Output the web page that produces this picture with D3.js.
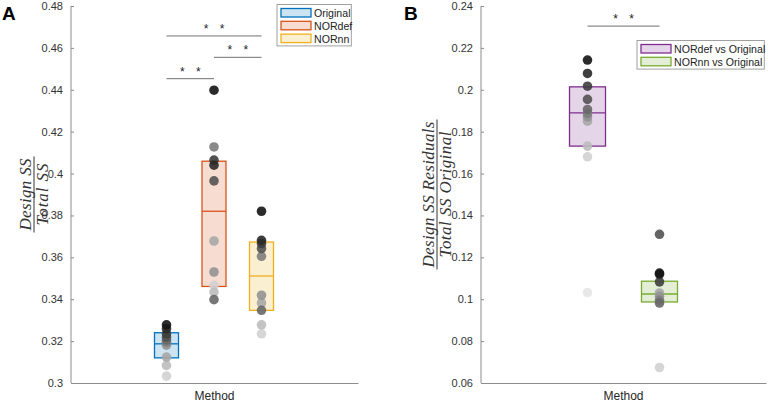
<!DOCTYPE html>
<html>
<head>
<meta charset="utf-8">
<script src="https://cdn.jsdelivr.net/npm/d3@7"></script>
<style>
  body { margin: 0; background: #fff; }
  svg { display: block; font-family: "Liberation Sans", Arial, sans-serif; }
</style>
</head>
<body>
<svg id="canvas"></svg>
<script>
// ---- data ----
const groupsA = ["Original", "NORdef", "NORnn"];
const boxLowA = [0.312, 0.3461, 0.3347];
const boxMedA = [0.3187, 0.382, 0.3511];
const boxHighA = [0.324, 0.4059, 0.3673];

const originalVals = [0.3278, 0.3259, 0.3235, 0.3219, 0.3205, 0.3195, 0.3181, 0.3124, 0.3084, 0.3033];
const originalRank = [0, 1, 2, 3, 4, 5, 6, 7, 8, 9];
const nordefVals = [0.4398, 0.4127, 0.4064, 0.404, 0.3965, 0.3678, 0.353, 0.3466, 0.3434, 0.3398];
const nordefRank = [0, 5, 2, 1, 3, 7, 6, 9, 8, 4];
const nornnVals = [0.382, 0.3681, 0.3666, 0.3642, 0.3605, 0.3419, 0.3382, 0.3347, 0.3278, 0.3235];
const nornnRank = [0, 1, 2, 3, 5, 6, 7, 4, 8, 9];

// significance pairs: [from group, to group, bar level]
const sigA = [["Original", "NORnn", 0.4657], ["NORdef", "NORnn", 0.4555], ["Original", "NORdef", 0.4453]];

const groupsB = ["NORdef vs Original", "NORnn vs Original"];
const boxLowB = [0.1731, 0.0987];
const boxMedB = [0.189, 0.1025];
const boxHighB = [0.2014, 0.1086];

const defVsOrigVals = [0.2142, 0.2078, 0.2017, 0.1954, 0.1906, 0.1887, 0.1871, 0.185, 0.1731, 0.168, 0.1032];
const defVsOrigRank = [0, 1, 2, 3, 4, 5, 6, 7, 8, 9, 10];
const nnVsOrigVals = [0.131, 0.1125, 0.1119, 0.1083, 0.103, 0.1014, 0.0995, 0.0982, 0.0674];
const nnVsOrigRank = [3, 0, 1, 2, 7, 6, 5, 4, 9];

const sigB = [["NORdef vs Original", "NORnn vs Original", 0.2304]];

const yTicksA = [0.3, 0.32, 0.34, 0.36, 0.38, 0.4, 0.42, 0.44, 0.46, 0.48];
const yTicksB = [0.06, 0.08, 0.1, 0.12, 0.14, 0.16, 0.18, 0.2, 0.22, 0.24];

// ---- layout ----
const width = 768;
const height = 402;
const plotTop = 6;
const plotBottom = 383;

const canvas = d3.select("#canvas").attr("width", width).attr("height", height);

const shade = d3.scaleLinear().domain([0, 10]).range(["#141414", "#e6e6e6"]);

const drawPanel = (opt) => {
  const g = canvas.append("g");

  const yScale = d3.scaleLinear().domain(opt.yDomain).range([plotBottom, plotTop]);
  const xScale = d3.scaleBand().domain(["Method"]).range([opt.left, opt.right]);
  const cx = xScale("Method") + xScale.bandwidth() / 2;
  const xGroup = d3.scalePoint().domain(opt.groups).range([cx + opt.offsets[0], cx + opt.offsets[1]]);
  const color = d3.scaleOrdinal().domain(opt.groups).range(opt.colors);

  // axes
  const yAxis = d3.axisLeft(yScale).tickValues(opt.yTicks).tickFormat(d3.format("~g")).tickSize(-3).tickPadding(8);
  const ya = g.append("g").attr("transform", `translate(${opt.left},0)`).call(yAxis);
  ya.select(".domain").attr("stroke", "#8c8c8c").attr("d", `M0,${plotBottom}V${plotTop}`);
  ya.selectAll(".tick line").attr("stroke", "#8c8c8c");
  ya.selectAll(".tick text").attr("fill", "#333").style("font-size", "11px");

  const xAxis = d3.axisBottom(xScale).tickSize(0).tickPadding(6);
  const xa = g.append("g").attr("transform", `translate(0,${plotBottom})`).call(xAxis);
  xa.select(".domain").attr("stroke", "#8c8c8c");
  xa.selectAll(".tick text").attr("fill", "#262626").style("font-size", "12px").attr("dy", "0.9em");

  // boxes
  opt.groups.forEach((grp, i) => {
    const x = xGroup(grp);
    const bw = opt.boxWidth;
    g.append("rect")
      .attr("x", x - bw / 2)
      .attr("y", yScale(opt.high[i]))
      .attr("width", bw)
      .attr("height", yScale(opt.low[i]) - yScale(opt.high[i]))
      .attr("fill", color(grp))
      .attr("fill-opacity", 0.2)
      .attr("stroke", color(grp))
      .attr("stroke-width", 1.3);
    g.append("line")
      .attr("x1", x - bw / 2)
      .attr("x2", x + bw / 2)
      .attr("y1", yScale(opt.med[i]))
      .attr("y2", yScale(opt.med[i]))
      .attr("stroke", color(grp))
      .attr("stroke-width", 1.3);
  });

  // points
  opt.groups.forEach((grp, i) => {
    const pts = opt.points[i].vals.map((v, k) => ({ v: v, r: opt.points[i].rank[k] }));
    g.append("g")
      .selectAll("circle")
      .data(pts.slice().sort((a, b) => b.r - a.r))
      .enter()
      .append("circle")
      .attr("cx", xGroup(grp))
      .attr("cy", (d) => yScale(d.v))
      .attr("r", 4.8)
      .attr("fill", (d) => shade(d.r))
      .attr("fill-opacity", 0.9);
  });

  // significance bars
  opt.sig.forEach((s) => {
    const x1 = xGroup(s[0]);
    const x2 = xGroup(s[1]);
    const y = yScale(s[2]);
    g.append("line")
      .attr("x1", x1).attr("x2", x2).attr("y1", y).attr("y2", y)
      .attr("stroke", "#707070").attr("stroke-width", 1);
    const mid = (x1 + x2) / 2;
    [-8, 8].forEach((dx) => {
      g.append("text")
        .attr("x", mid + dx)
        .attr("y", y - 3)
        .attr("text-anchor", "middle")
        .attr("fill", "#222")
        .style("font-size", "12px")
        .text("*");
    });
  });

  // legend
  const lg = g.append("g").attr("transform", `translate(${opt.legend.x},${opt.legend.y})`);
  const lgBox = lg.append("rect").attr("fill", "#fff").attr("stroke", "#a0a0a0").attr("stroke-width", 1);
  opt.groups.forEach((grp, i) => {
    const row = lg.append("g").attr("transform", `translate(4,${4 + i * 12.8})`);
    row.append("rect")
      .attr("width", 30).attr("height", 8.5)
      .attr("fill", color(grp)).attr("fill-opacity", 0.2)
      .attr("stroke", color(grp)).attr("stroke-width", 1.3);
    row.append("text")
      .attr("x", 33).attr("y", 8.6)
      .attr("fill", "#222")
      .style("font-size", "10.6px")
      .text(grp);
  });
  const bb = lg.node().getBBox();
  lgBox.attr("x", 0).attr("y", 0).attr("width", bb.width + 3).attr("height", opt.groups.length * 12.8 + 3);

  // y label as a fraction
  const serif = "'Liberation Serif', 'DejaVu Serif', serif";
  const yl = g.append("g").attr("transform", `translate(${opt.labelX},${(plotTop + plotBottom) / 2}) rotate(-90)`);
  yl.append("text").attr("y", -3.5).attr("text-anchor", "middle")
    .attr("textLength", opt.numLen).attr("lengthAdjust", "spacing")
    .style("font-family", serif).style("font-style", "italic")
    .style("font-size", "17px").attr("fill", "#333").text(opt.num);
  yl.append("text").attr("y", 14).attr("text-anchor", "middle")
    .attr("textLength", opt.denLen).attr("lengthAdjust", "spacing")
    .style("font-family", serif).style("font-style", "italic")
    .style("font-size", "17px").attr("fill", "#333").text(opt.den);
  const lineLen = Math.max(opt.numLen, opt.denLen) + 4;
  yl.append("line").attr("x1", -lineLen / 2).attr("x2", lineLen / 2).attr("y1", 0).attr("y2", 0)
    .attr("stroke", "#333").attr("stroke-width", 1);

  // panel letter
  canvas.append("text").attr("x", opt.letterX).attr("y", 20)
    .style("font-size", "19px").style("font-weight", "bold").attr("fill", "#000").text(opt.letter);
};

drawPanel({
  letter: "A", letterX: 2,
  left: 71, right: 358,
  yDomain: [0.3, 0.48], yTicks: yTicksA,
  groups: groupsA, colors: ["#0072BD", "#D95319", "#EDB120"],
  offsets: [-48, 47], boxWidth: 24,
  low: boxLowA, med: boxMedA, high: boxHighA,
  points: [
    { vals: originalVals, rank: originalRank },
    { vals: nordefVals, rank: nordefRank },
    { vals: nornnVals, rank: nornnRank }
  ],
  sig: sigA,
  legend: { x: 277, y: 4.5 },
  labelX: 34, num: "Design SS", den: "Total SS", numLen: 72, denLen: 62
});

drawPanel({
  letter: "B", letterX: 404,
  left: 481, right: 766,
  yDomain: [0.06, 0.24], yTicks: yTicksB,
  groups: groupsB, colors: ["#7E2F8E", "#77AC30"],
  offsets: [-36, 36], boxWidth: 36,
  low: boxLowB, med: boxMedB, high: boxHighB,
  points: [
    { vals: defVsOrigVals, rank: defVsOrigRank },
    { vals: nnVsOrigVals, rank: nnVsOrigRank }
  ],
  sig: sigB,
  legend: { x: 637, y: 40.5 },
  labelX: 437, num: "Design SS Residuals", den: "Total SS Original", numLen: 146, denLen: 126
});
</script>
</body>
</html>
